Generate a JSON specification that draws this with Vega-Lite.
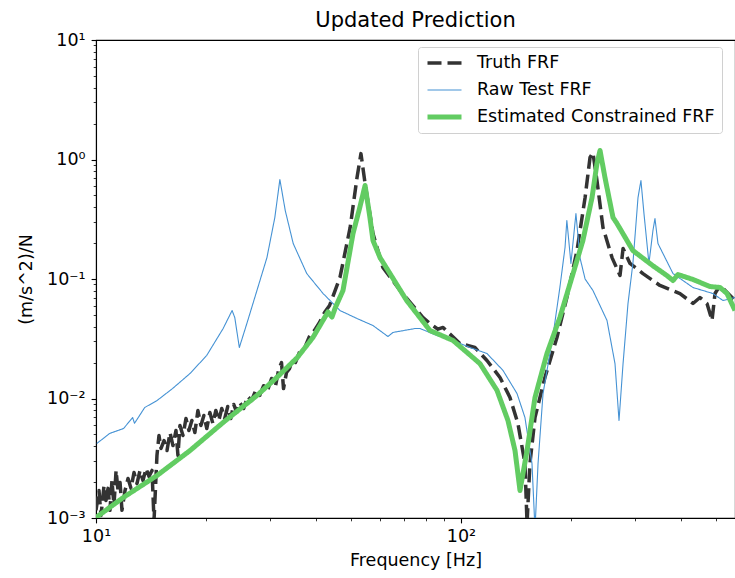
{
  "$schema": "https://vega.github.io/schema/vega-lite/v6.json",
  "width": 639,
  "height": 478,
  "autosize": {"type": "none"},
  "padding": {"left": 96, "top": 40, "right": 0, "bottom": 60},
  "background": "white",
  "title": {"text": "Updated Prediction", "font": "DejaVu Sans", "fontSize": 21, "fontWeight": "normal", "color": "black", "offset": 0, "anchor": "middle"},
  "config": {
    "font": "DejaVu Sans",
    "view": {"stroke": "black", "strokeWidth": 1.1}
  },
  "data": {"values": [
    {"s":"Truth FRF","f":10.0,"v":0.00116},{"s":"Truth FRF","f":10.19,"v":0.0017},{"s":"Truth FRF","f":10.32,"v":0.00105},{"s":"Truth FRF","f":10.52,"v":0.00187},{"s":"Truth FRF","f":10.65,"v":0.0014},{"s":"Truth FRF","f":10.79,"v":0.00177},{"s":"Truth FRF","f":10.92,"v":0.00116},{"s":"Truth FRF","f":11.06,"v":0.00206},{"s":"Truth FRF","f":11.2,"v":0.00127},{"s":"Truth FRF","f":11.35,"v":0.0025},{"s":"Truth FRF","f":11.49,"v":0.0017},{"s":"Truth FRF","f":11.64,"v":0.00198},{"s":"Truth FRF","f":11.78,"v":0.00116},{"s":"Truth FRF","f":12.01,"v":0.0017},{"s":"Truth FRF","f":12.24,"v":0.00214},{"s":"Truth FRF","f":12.47,"v":0.00177},{"s":"Truth FRF","f":12.71,"v":0.0024},{"s":"Truth FRF","f":12.95,"v":0.00194},{"s":"Truth FRF","f":13.2,"v":0.0025},{"s":"Truth FRF","f":13.45,"v":0.00206},{"s":"Truth FRF","f":13.71,"v":0.0026},{"s":"Truth FRF","f":13.97,"v":0.00223},{"s":"Truth FRF","f":14.24,"v":0.0025},{"s":"Truth FRF","f":14.42,"v":0.00095},{"s":"Truth FRF","f":14.69,"v":0.00334},{"s":"Truth FRF","f":14.88,"v":0.0049},{"s":"Truth FRF","f":15.07,"v":0.00382},{"s":"Truth FRF","f":15.36,"v":0.00445},{"s":"Truth FRF","f":15.65,"v":0.00367},{"s":"Truth FRF","f":15.95,"v":0.00519},{"s":"Truth FRF","f":16.25,"v":0.00404},{"s":"Truth FRF","f":16.56,"v":0.0054},{"s":"Truth FRF","f":16.77,"v":0.00334},{"s":"Truth FRF","f":16.98,"v":0.00594},{"s":"Truth FRF","f":17.31,"v":0.0049},{"s":"Truth FRF","f":17.64,"v":0.0068},{"s":"Truth FRF","f":17.97,"v":0.0054},{"s":"Truth FRF","f":18.31,"v":0.00654},{"s":"Truth FRF","f":18.66,"v":0.00519},{"s":"Truth FRF","f":19.02,"v":0.00794},{"s":"Truth FRF","f":19.38,"v":0.00594},{"s":"Truth FRF","f":19.75,"v":0.00721},{"s":"Truth FRF","f":20.12,"v":0.00561},{"s":"Truth FRF","f":20.51,"v":0.00764},{"s":"Truth FRF","f":20.9,"v":0.00618},{"s":"Truth FRF","f":21.3,"v":0.00794},{"s":"Truth FRF","f":21.7,"v":0.00654},{"s":"Truth FRF","f":22.11,"v":0.00825},{"s":"Truth FRF","f":22.53,"v":0.0068},{"s":"Truth FRF","f":22.96,"v":0.00857},{"s":"Truth FRF","f":23.4,"v":0.0068},{"s":"Truth FRF","f":23.84,"v":0.00891},{"s":"Truth FRF","f":24.3,"v":0.00764},{"s":"Truth FRF","f":24.76,"v":0.00926},{"s":"Truth FRF","f":25.39,"v":0.00825},{"s":"Truth FRF","f":26.04,"v":0.0104},{"s":"Truth FRF","f":26.7,"v":0.00962},{"s":"Truth FRF","f":27.38,"v":0.0117},{"s":"Truth FRF","f":28.08,"v":0.0106},{"s":"Truth FRF","f":28.79,"v":0.0128},{"s":"Truth FRF","f":29.52,"v":0.0117},{"s":"Truth FRF","f":30.27,"v":0.0147},{"s":"Truth FRF","f":31.04,"v":0.0128},{"s":"Truth FRF","f":31.63,"v":0.0172},{"s":"Truth FRF","f":32.23,"v":0.02},{"s":"Truth FRF","f":32.64,"v":0.0121},{"s":"Truth FRF","f":33.26,"v":0.0165},{"s":"Truth FRF","f":33.89,"v":0.0178},{"s":"Truth FRF","f":34.53,"v":0.0208},{"s":"Truth FRF","f":35.19,"v":0.02},{"s":"Truth FRF","f":36.08,"v":0.0243},{"s":"Truth FRF","f":37.24,"v":0.0262},{"s":"Truth FRF","f":38.44,"v":0.033},{"s":"Truth FRF","f":39.68,"v":0.0371},{"s":"Truth FRF","f":40.96,"v":0.0433},{"s":"Truth FRF","f":42.28,"v":0.0525},{"s":"Truth FRF","f":43.64,"v":0.06},{"s":"Truth FRF","f":46.6,"v":0.103},{"s":"Truth FRF","f":49.7,"v":0.27},{"s":"Truth FRF","f":51.9,"v":0.707},{"s":"Truth FRF","f":53.2,"v":1.12},{"s":"Truth FRF","f":54.6,"v":0.63},{"s":"Truth FRF","f":57.4,"v":0.24},{"s":"Truth FRF","f":61.1,"v":0.125},{"s":"Truth FRF","f":68.1,"v":0.0801},{"s":"Truth FRF","f":78.7,"v":0.0476},{"s":"Truth FRF","f":82.2,"v":0.0424},{"s":"Truth FRF","f":86.5,"v":0.038},{"s":"Truth FRF","f":89.3,"v":0.0393},{"s":"Truth FRF","f":92.0,"v":0.036},{"s":"Truth FRF","f":99.3,"v":0.0289},{"s":"Truth FRF","f":109.2,"v":0.0267},{"s":"Truth FRF","f":117.8,"v":0.0208},{"s":"Truth FRF","f":127.9,"v":0.015},{"s":"Truth FRF","f":136.2,"v":0.0102},{"s":"Truth FRF","f":143.2,"v":0.00618},{"s":"Truth FRF","f":149.7,"v":0.00286},{"s":"Truth FRF","f":151.7,"v":0.0009},{"s":"Truth FRF","f":154.5,"v":0.00286},{"s":"Truth FRF","f":159.5,"v":0.00693},{"s":"Truth FRF","f":169.8,"v":0.015},{"s":"Truth FRF","f":183.2,"v":0.0324},{"s":"Truth FRF","f":195.0,"v":0.07},{"s":"Truth FRF","f":207.9,"v":0.173},{"s":"Truth FRF","f":218.8,"v":0.481},{"s":"Truth FRF","f":225.7,"v":1.04},{"s":"Truth FRF","f":229.9,"v":1.14},{"s":"Truth FRF","f":235.8,"v":0.667},{"s":"Truth FRF","f":244.9,"v":0.27},{"s":"Truth FRF","f":259.3,"v":0.151},{"s":"Truth FRF","f":272.7,"v":0.107},{"s":"Truth FRF","f":278.0,"v":0.18},{"s":"Truth FRF","f":290.4,"v":0.135},{"s":"Truth FRF","f":315.2,"v":0.111},{"s":"Truth FRF","f":350.8,"v":0.0883},{"s":"Truth FRF","f":398.1,"v":0.0756},{"s":"Truth FRF","f":432.1,"v":0.0624},{"s":"Truth FRF","f":451.6,"v":0.07},{"s":"Truth FRF","f":472.1,"v":0.0624},{"s":"Truth FRF","f":487.2,"v":0.045},{"s":"Truth FRF","f":496.6,"v":0.0756},{"s":"Truth FRF","f":512.4,"v":0.0883},{"s":"Truth FRF","f":563.3,"v":0.0661},

    {"s":"Raw Test FRF","f":10.05,"v":0.0042},{"s":"Raw Test FRF","f":10.9,"v":0.0051},{"s":"Raw Test FRF","f":11.9,"v":0.00561},{"s":"Raw Test FRF","f":12.6,"v":0.00693},{"s":"Raw Test FRF","f":12.75,"v":0.0062},{"s":"Raw Test FRF","f":13.6,"v":0.00841},{"s":"Raw Test FRF","f":14.7,"v":0.00962},{"s":"Raw Test FRF","f":16.2,"v":0.0121},{"s":"Raw Test FRF","f":18.1,"v":0.0162},{"s":"Raw Test FRF","f":20.1,"v":0.0229},{"s":"Raw Test FRF","f":22.3,"v":0.0385},{"s":"Raw Test FRF","f":23.6,"v":0.0545},{"s":"Raw Test FRF","f":24.0,"v":0.0476},{"s":"Raw Test FRF","f":24.7,"v":0.0267},{"s":"Raw Test FRF","f":25.9,"v":0.0424},{"s":"Raw Test FRF","f":27.6,"v":0.0801},{"s":"Raw Test FRF","f":29.4,"v":0.151},{"s":"Raw Test FRF","f":30.9,"v":0.327},{"s":"Raw Test FRF","f":31.9,"v":0.68},{"s":"Raw Test FRF","f":33.0,"v":0.374},{"s":"Raw Test FRF","f":34.7,"v":0.198},{"s":"Raw Test FRF","f":37.8,"v":0.111},{"s":"Raw Test FRF","f":41.9,"v":0.0756},{"s":"Raw Test FRF","f":46.6,"v":0.0545},{"s":"Raw Test FRF","f":51.9,"v":0.0467},{"s":"Raw Test FRF","f":57.4,"v":0.0408},{"s":"Raw Test FRF","f":63.1,"v":0.033},{"s":"Raw Test FRF","f":65.1,"v":0.0357},{"s":"Raw Test FRF","f":74.8,"v":0.0385},{"s":"Raw Test FRF","f":77.2,"v":0.0385},{"s":"Raw Test FRF","f":85.9,"v":0.0337},{"s":"Raw Test FRF","f":95.1,"v":0.0306},{"s":"Raw Test FRF","f":105.9,"v":0.0267},{"s":"Raw Test FRF","f":117.8,"v":0.0238},{"s":"Raw Test FRF","f":130.3,"v":0.0172},{"s":"Raw Test FRF","f":142.4,"v":0.011},{"s":"Raw Test FRF","f":149.7,"v":0.00693},{"s":"Raw Test FRF","f":156.5,"v":0.00286},{"s":"Raw Test FRF","f":159.5,"v":0.0008},{"s":"Raw Test FRF","f":162.6,"v":0.00286},{"s":"Raw Test FRF","f":167.8,"v":0.011},{"s":"Raw Test FRF","f":178.7,"v":0.0337},{"s":"Raw Test FRF","f":186.6,"v":0.0849},{"s":"Raw Test FRF","f":192.8,"v":0.184},{"s":"Raw Test FRF","f":195.0,"v":0.309},{"s":"Raw Test FRF","f":200.1,"v":0.135},{"s":"Raw Test FRF","f":206.5,"v":0.353},{"s":"Raw Test FRF","f":211.8,"v":0.151},{"s":"Raw Test FRF","f":218.8,"v":0.1},{"s":"Raw Test FRF","f":229.9,"v":0.0801},{"s":"Raw Test FRF","f":251.2,"v":0.045},{"s":"Raw Test FRF","f":264.2,"v":0.0196},{"s":"Raw Test FRF","f":271.0,"v":0.00654},{"s":"Raw Test FRF","f":278.0,"v":0.0196},{"s":"Raw Test FRF","f":286.8,"v":0.0624},{"s":"Raw Test FRF","f":295.8,"v":0.135},{"s":"Raw Test FRF","f":305.5,"v":0.481},{"s":"Raw Test FRF","f":311.2,"v":0.667},{"s":"Raw Test FRF","f":317.2,"v":0.353},{"s":"Raw Test FRF","f":327.3,"v":0.135},{"s":"Raw Test FRF","f":335.7,"v":0.255},{"s":"Raw Test FRF","f":340.0,"v":0.321},{"s":"Raw Test FRF","f":346.5,"v":0.198},{"s":"Raw Test FRF","f":381.0,"v":0.111},{"s":"Raw Test FRF","f":432.1,"v":0.0849},{"s":"Raw Test FRF","f":489.8,"v":0.0756},{"s":"Raw Test FRF","f":522.2,"v":0.0661},{"s":"Raw Test FRF","f":563.3,"v":0.07},

    {"s":"Estimated Constrained FRF","f":10.0,"v":0.00101},{"s":"Estimated Constrained FRF","f":11.9,"v":0.00149},{"s":"Estimated Constrained FRF","f":14.7,"v":0.00227},{"s":"Estimated Constrained FRF","f":18.1,"v":0.00367},{"s":"Estimated Constrained FRF","f":22.3,"v":0.0063},{"s":"Estimated Constrained FRF","f":27.6,"v":0.0106},{"s":"Estimated Constrained FRF","f":31.3,"v":0.015},{"s":"Estimated Constrained FRF","f":35.6,"v":0.022},{"s":"Estimated Constrained FRF","f":39.3,"v":0.0324},{"s":"Estimated Constrained FRF","f":43.2,"v":0.053},{"s":"Estimated Constrained FRF","f":44.3,"v":0.048},{"s":"Estimated Constrained FRF","f":45.3,"v":0.058},{"s":"Estimated Constrained FRF","f":47.5,"v":0.0801},{"s":"Estimated Constrained FRF","f":50.6,"v":0.24},{"s":"Estimated Constrained FRF","f":52.8,"v":0.396},{"s":"Estimated Constrained FRF","f":54.6,"v":0.606},{"s":"Estimated Constrained FRF","f":56.3,"v":0.327},{"s":"Estimated Constrained FRF","f":57.4,"v":0.21},{"s":"Estimated Constrained FRF","f":60.0,"v":0.151},{"s":"Estimated Constrained FRF","f":63.9,"v":0.111},{"s":"Estimated Constrained FRF","f":71.0,"v":0.066},{"s":"Estimated Constrained FRF","f":82.2,"v":0.0371},{"s":"Estimated Constrained FRF","f":95.1,"v":0.0306},{"s":"Estimated Constrained FRF","f":112.7,"v":0.0196},{"s":"Estimated Constrained FRF","f":125.5,"v":0.0117},{"s":"Estimated Constrained FRF","f":134.5,"v":0.00654},{"s":"Estimated Constrained FRF","f":140.6,"v":0.00367},{"s":"Estimated Constrained FRF","f":145.1,"v":0.0017},{"s":"Estimated Constrained FRF","f":151.7,"v":0.00367},{"s":"Estimated Constrained FRF","f":159.5,"v":0.0102},{"s":"Estimated Constrained FRF","f":172.0,"v":0.0238},{"s":"Estimated Constrained FRF","f":186.6,"v":0.0476},{"s":"Estimated Constrained FRF","f":202.8,"v":0.111},{"s":"Estimated Constrained FRF","f":215.8,"v":0.21},{"s":"Estimated Constrained FRF","f":228.6,"v":0.481},{"s":"Estimated Constrained FRF","f":235.8,"v":0.926},{"s":"Estimated Constrained FRF","f":240.4,"v":1.19},{"s":"Estimated Constrained FRF","f":248.0,"v":0.707},{"s":"Estimated Constrained FRF","f":260.9,"v":0.327},{"s":"Estimated Constrained FRF","f":267.6,"v":0.291},{"s":"Estimated Constrained FRF","f":295.8,"v":0.173},{"s":"Estimated Constrained FRF","f":335.7,"v":0.129},{"s":"Estimated Constrained FRF","f":366.4,"v":0.107},{"s":"Estimated Constrained FRF","f":381.0,"v":0.0971},{"s":"Estimated Constrained FRF","f":393.1,"v":0.109},{"s":"Estimated Constrained FRF","f":432.1,"v":0.0991},{"s":"Estimated Constrained FRF","f":480.8,"v":0.0865},{"s":"Estimated Constrained FRF","f":512.4,"v":0.0849},{"s":"Estimated Constrained FRF","f":535.6,"v":0.0756},{"s":"Estimated Constrained FRF","f":563.3,"v":0.0545}
  ]},
  "mark": {"type": "line", "clip": true, "strokeCap": "butt", "strokeJoin": "round"},
  "encoding": {
    "x": {
      "field": "f", "type": "quantitative",
      "scale": {"type": "log", "domain": [10, 563.3], "nice": false},
      "axis": {
        "title": "Frequency [Hz]",
        "values": [10, 20, 30, 40, 50, 60, 70, 80, 90, 100, 200, 300, 400, 500],
        "labelExpr": "datum.value == 10 ? '10¹' : datum.value == 100 ? '10²' : ''",
        "labelFlush": false, "labelOverlap": false,
        "grid": false,
        "domainColor": "black", "domainWidth": 1.1,
        "tickColor": "black",
        "tickSize": {"condition": {"test": "datum.value == 10 || datum.value == 100", "value": 4.9}, "value": 2.8},
        "tickWidth": {"condition": {"test": "datum.value == 10 || datum.value == 100", "value": 1.1}, "value": 0.8},
        "labelFont": "DejaVu Sans", "labelFontSize": 17.5, "labelColor": "black", "labelPadding": 5,
        "titleFont": "DejaVu Sans", "titleFontSize": 17.5, "titleFontWeight": "normal", "titleColor": "black", "titlePadding": 6
      }
    },
    "y": {
      "field": "v", "type": "quantitative",
      "scale": {"type": "log", "domain": [0.001, 10], "nice": false},
      "axis": {
        "title": "(m/s^2)/N",
        "values": [0.001, 0.002, 0.003, 0.004, 0.005, 0.006, 0.007, 0.008, 0.009, 0.01, 0.02, 0.03, 0.04, 0.05, 0.06, 0.07, 0.08, 0.09, 0.1, 0.2, 0.3, 0.4, 0.5, 0.6, 0.7, 0.8, 0.9, 1, 2, 3, 4, 5, 6, 7, 8, 9, 10],
        "labelExpr": "datum.value == 0.001 ? '10⁻³' : datum.value == 0.01 ? '10⁻²' : datum.value == 0.1 ? '10⁻¹' : datum.value == 1 ? '10⁰' : datum.value == 10 ? '10¹' : ''",
        "labelOverlap": false,
        "grid": false,
        "domainColor": "black", "domainWidth": 1.1,
        "tickColor": "black",
        "tickSize": {"condition": {"test": "indexof([0.001, 0.01, 0.1, 1, 10], datum.value) >= 0", "value": 4.9}, "value": 2.8},
        "tickWidth": {"condition": {"test": "indexof([0.001, 0.01, 0.1, 1, 10], datum.value) >= 0", "value": 1.1}, "value": 0.8},
        "labelFont": "DejaVu Sans", "labelFontSize": 17.5, "labelColor": "black", "labelPadding": 6,
        "titleFont": "DejaVu Sans", "titleFontSize": 17.5, "titleFontWeight": "normal", "titleColor": "black", "titlePadding": 11
      }
    },
    "color": {
      "field": "s", "type": "ordinal",
      "scale": {"domain": ["Truth FRF", "Raw Test FRF", "Estimated Constrained FRF"], "range": ["#333333", "#4592d4", "#62cc62"]},
      "legend": {
        "title": null, "orient": "none", "legendX": 322, "legendY": 7,
        "symbolType": "stroke", "symbolSize": 1156,
        "labelFont": "DejaVu Sans", "labelFontSize": 17.5, "labelColor": "black", "labelOffset": 13, "labelLimit": 400,
        "strokeColor": "#d0d0d0", "fillColor": "rgba(255,255,255,0.85)", "cornerRadius": 3,
        "padding": 7, "rowPadding": 9, "clipHeight": 18
      }
    },
    "strokeDash": {
      "field": "s", "type": "ordinal",
      "scale": {"type": "ordinal", "domain": ["Truth FRF", "Raw Test FRF", "Estimated Constrained FRF"], "range": [[14, 6], [1, 0], [1, 0]]}
    },
    "strokeWidth": {
      "field": "s", "type": "ordinal",
      "scale": {"type": "ordinal", "domain": ["Truth FRF", "Raw Test FRF", "Estimated Constrained FRF"], "range": [3.5, 1.1, 5]}
    }
  }
}
